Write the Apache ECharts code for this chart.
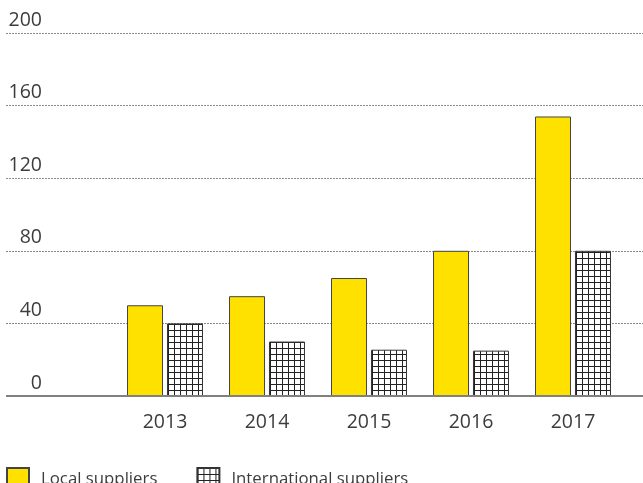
<!DOCTYPE html>
<html>
<head>
<meta charset="utf-8">
<script src="https://cdn.jsdelivr.net/npm/echarts@6/dist/echarts.min.js"></script>
<style>html,body{margin:0;padding:0;background:#fff}#c{width:643px;height:483px}</style>
</head>
<body>
<div id="c"></div>
<script>
var categories = ['2013', '2014', '2015', '2016', '2017'];
var localSuppliers = [50, 55, 65, 80, 154];
var internationalSuppliers = [40, 30, 25.5, 25, 80];
var seriesNames = ['Local suppliers', 'International suppliers'];
var yTicks = [0, 40, 80, 120, 160, 200];

var FONT = 'Open Sans';
var TXT = '#3c3c3c';

var pc = document.createElement('canvas');
pc.width = 6; pc.height = 6;
var g = pc.getContext('2d');
g.fillStyle = '#fff'; g.fillRect(0, 0, 6, 6);
g.fillStyle = '#222';
g.fillRect(0, 0, 6, 1);
g.fillRect(0, 0, 1, 6);

var chart = echarts.init(document.getElementById('c'), null, {renderer: 'canvas'});
chart.setOption({
  animation: false,
  backgroundColor: '#fff',
  grid: [
    {left: 6, right: 0, top: 33, bottom: 87, containLabel: false},
    {left: 114, right: 19, top: 33, bottom: 87, containLabel: false}
  ],
  xAxis: [
    {gridIndex: 0, type: 'value', min: 0, max: 1, show: true,
      axisLine: {show: false}, axisTick: {show: false}, axisLabel: {show: false}, splitLine: {show: false}},
    {gridIndex: 1, type: 'category', data: categories,
      axisLine: {show: false}, axisTick: {show: false},
      axisLabel: {color: TXT, fontFamily: FONT, fontSize: 19.5, margin: 16}}
  ],
  yAxis: [
    {gridIndex: 0, type: 'value', min: yTicks[0], max: yTicks[yTicks.length - 1], interval: 40,
      axisLine: {show: false}, axisTick: {show: false},
      axisLabel: {inside: true, margin: 36, align: 'right', verticalAlign: 'bottom',
        padding: [0, 0, 3, 0], color: TXT, fontFamily: FONT, fontSize: 19.5},
      splitLine: {show: true, lineStyle: {color: '#8a8a8a', width: 1, type: [2, 1]}}
    },
    {gridIndex: 1, type: 'value', min: yTicks[0], max: yTicks[yTicks.length - 1], interval: 40, show: false}
  ],
  legend: {
    left: 6, top: 463, padding: 0, itemWidth: 22, itemHeight: 22, itemGap: 39,
    icon: 'rect',
    textStyle: {color: TXT, fontFamily: FONT, fontSize: 16.8, lineHeight: 22, padding: [10, 0, 0, 7]},
    data: seriesNames
  },
  series: [
    {name: seriesNames[0], type: 'bar', xAxisIndex: 1, yAxisIndex: 1, data: localSuppliers,
      barWidth: 36, barGap: '11%',
      itemStyle: {color: '#FFE100', borderColor: '#444', borderWidth: 1}},
    {name: seriesNames[1], type: 'bar', xAxisIndex: 1, yAxisIndex: 1, data: internationalSuppliers,
      barWidth: 36, barGap: '11%',
      itemStyle: {color: {image: pc, repeat: 'repeat'}, borderColor: '#333', borderWidth: 1}},
    {type: 'line', xAxisIndex: 0, yAxisIndex: 0, data: [[0, 0], [1, 0]], symbol: 'none', silent: true,
      lineStyle: {color: '#808080', width: 2}, z: 5}
  ]
});
</script>
</body>
</html>
